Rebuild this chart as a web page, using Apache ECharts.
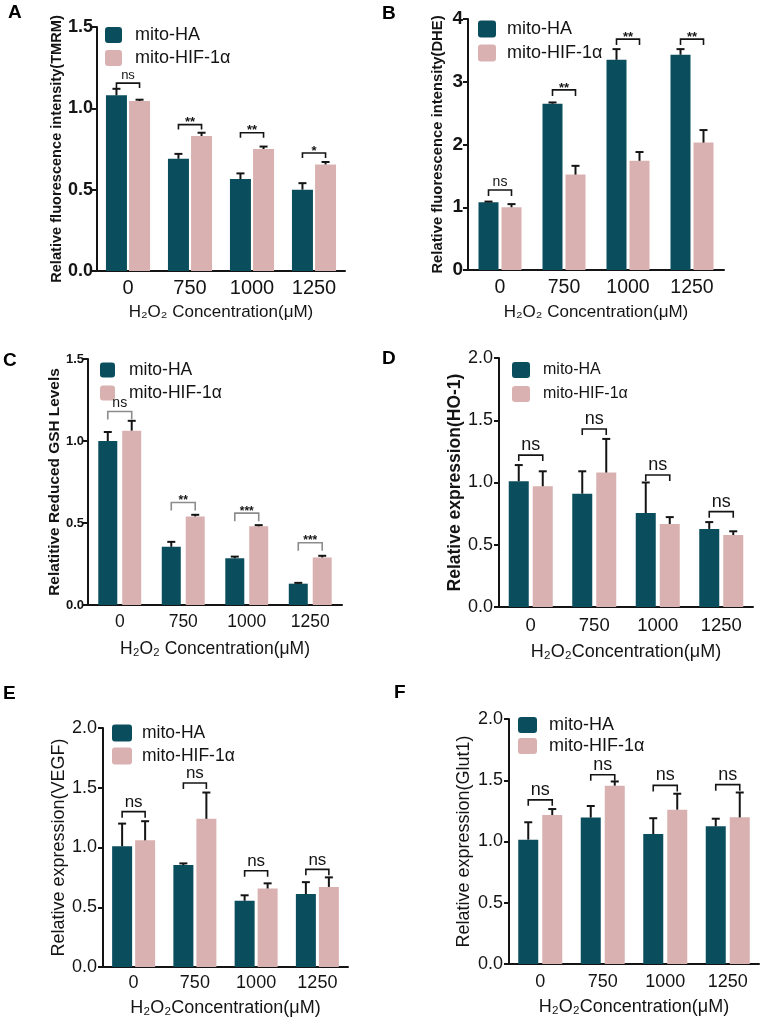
<!DOCTYPE html>
<html><head><meta charset="utf-8">
<script src="https://cdn.jsdelivr.net/npm/echarts@6/dist/echarts.min.js"></script>
<style>html,body{margin:0;padding:0;background:#fff}#c{width:762px;height:1021px}</style>
</head><body><div id="c"></div>
<script>
// ---------- data ----------
const categories = ['0', '750', '1000', '1250'];
const seriesNames = ['mito-HA', 'mito-HIF-1α'];

// A: TMRM
const haA = [1.08, 0.69, 0.565, 0.50];
const haAErr = [0.04, 0.03, 0.035, 0.04];
const hifA = [1.045, 0.83, 0.75, 0.655];
const hifAErr = [0.008, 0.02, 0.015, 0.015];
const bracketA = [1.155, 0.90, 0.85, 0.725];
const sigA = ['ns', '**', '**', '*'];
const yTicksA = ['0.0', '0.5', '1.0', '1.5'];

// B: DHE
const haB = [1.08, 2.65, 3.35, 3.43];
const haBErr = [0.01, 0.02, 0.17, 0.09];
const hifB = [1.00, 1.52, 1.74, 2.03];
const hifBErr = [0.05, 0.14, 0.14, 0.20];
const bracketB = [1.275, 2.87, 3.68, 3.68];
const sigB = ['ns', '**', '**', '**'];
const yTicksB = ['0', '1', '2', '3', '4'];

// C: GSH
const haC = [1.00, 0.355, 0.285, 0.13];
const haCErr = [0.055, 0.03, 0.01, 0.005];
const hifC = [1.063, 0.54, 0.48, 0.29];
const hifCErr = [0.06, 0.01, 0.007, 0.01];
const bracketC = [1.18, 0.625, 0.56, 0.38];
const sigC = ['ns', '**', '***', '***'];
const yTicksC = ['0.0', '0.5', '1.0', '1.5'];

// D: HO-1
const haD = [1.01, 0.91, 0.755, 0.627];
const haDErr = [0.13, 0.18, 0.245, 0.055];
const hifD = [0.97, 1.08, 0.667, 0.578];
const hifDErr = [0.12, 0.27, 0.055, 0.03];
const bracketD = [1.22, 1.43, 1.06, 0.766];
const sigD = ['ns', 'ns', 'ns', 'ns'];
const yTicksD = ['0.0', '0.5', '1.0', '1.5', '2.0'];

// E: VEGF
const haE = [1.01, 0.853, 0.554, 0.61];
const haEErr = [0.19, 0.014, 0.046, 0.10];
const hifE = [1.06, 1.24, 0.657, 0.67];
const hifEErr = [0.16, 0.22, 0.043, 0.08];
const bracketE = [1.30, 1.54, 0.806, 0.817];
const sigE = ['ns', 'ns', 'ns', 'ns'];
const yTicksE = ['0.0', '0.5', '1.0', '1.5', '2.0'];

// F: Glut1
const haF = [1.015, 1.195, 1.061, 1.124];
const haFErr = [0.142, 0.095, 0.129, 0.062];
const hifF = [1.216, 1.456, 1.26, 1.197];
const hifFErr = [0.049, 0.034, 0.13, 0.203];
const bracketF = [1.34, 1.545, 1.458, 1.464];
const sigF = ['ns', 'ns', 'ns', 'ns'];
const yTicksF = ['0.0', '0.5', '1.0', '1.5', '2.0'];

// ---------- styles ----------
const FONT = '"Liberation Sans", Arial, Helvetica, sans-serif';
const DARK = '#0a4e5e';
const PINK = '#dab1b1';
const INK = '#141414';

const panels = [
  { label: 'A', labelPos: [8, 3], grid: { left: 97, top: 27, width: 248, height: 244 },
    ha: haA, haErr: haAErr, hif: hifA, hifErr: hifAErr, br: bracketA, sig: sigA, yTicks: yTicksA,
    max: 1.5, interval: 0.5, yName: 'Relative fluorescence intensity(TMRM)', yNameSize: 14.6, yNameBold: true, yNameGap: 32,
    yLabSize: 18, yLabBold: true, yLabMargin: 4,
    xName: 'H₂O₂ Concentration(μM)', xNameSize: 17, xNameGap: 33, xLabSize: 20, xLabMargin: 7,
    barW: 21, gapPct: 0.10, tick: 5, brColor: INK, sigSize: 13, starSize: 13,
    legend: { left: 105, top: 26, w: 17, h: 16, font: 18, gap: 5, pad: 8 } },
  { label: 'B', labelPos: [382, 4], grid: { left: 468, top: 19, width: 256, height: 251 },
    ha: haB, haErr: haBErr, hif: hifB, hifErr: hifBErr, br: bracketB, sig: sigB, yTicks: yTicksB,
    max: 4, interval: 1, yName: 'Relative fluorescence intensity(DHE)', yNameSize: 14.8, yNameBold: true, yNameGap: 23,
    yLabSize: 19, yLabBold: true, yLabMargin: 5,
    xName: 'H₂O₂ Concentration(μM)', xNameSize: 17, xNameGap: 34, xLabSize: 19.5, xLabMargin: 8,
    barW: 20, gapPct: 0.15, tick: 6, brColor: INK, sigSize: 14, starSize: 13,
    legend: { left: 478, top: 20, w: 18, h: 17, font: 18, gap: 6, pad: 6 } },
  { label: 'C', labelPos: [3, 351], grid: { left: 88, top: 359, width: 254, height: 246 },
    ha: haC, haErr: haCErr, hif: hifC, hifErr: hifCErr, br: bracketC, sig: sigC, yTicks: yTicksC,
    max: 1.5, interval: 0.5, yName: 'Relatitive Reduced GSH Levels', yNameSize: 15.4, yNameBold: true, yNameGap: 24,
    yLabSize: 13, yLabBold: true, yLabMargin: 4,
    xName: 'H₂O₂ Concentration(μM)', xNameSize: 17.5, xNameGap: 35, xLabSize: 17.5, xLabMargin: 8,
    barW: 19, gapPct: 0.26, tick: 8, brColor: '#8c8c8c', sigSize: 14, starSize: 12,
    legend: { left: 100, top: 361, w: 15, h: 15, font: 17.5, gap: 5, pad: 9 } },
  { label: 'D', labelPos: [382, 349], grid: { left: 499, top: 358, width: 254, height: 249 },
    ha: haD, haErr: haDErr, hif: hifD, hifErr: hifDErr, br: bracketD, sig: sigD, yTicks: yTicksD,
    max: 2, interval: 0.5, yName: 'Relative expression(HO-1)', yNameSize: 17.5, yNameBold: true, yNameGap: 34,
    yLabSize: 18, yLabBold: false, yLabMargin: 6,
    xName: 'H₂O₂Concentration(μM)', xNameSize: 18, xNameGap: 36, xLabSize: 18.5, xLabMargin: 9,
    barW: 20, gapPct: 0.20, tick: 6, brColor: INK, sigSize: 18, starSize: 14,
    legend: { left: 512, top: 362, w: 18, h: 16, font: 16, gap: 8, pad: 8 } },
  { label: 'E', labelPos: [3, 684], grid: { left: 103, top: 728, width: 245, height: 239 },
    ha: haE, haErr: haEErr, hif: hifE, hifErr: hifEErr, br: bracketE, sig: sigE, yTicks: yTicksE,
    max: 2, interval: 0.5, yName: 'Relative expression(VEGF)', yNameSize: 18, yNameBold: false, yNameGap: 35,
    yLabSize: 18, yLabBold: false, yLabMargin: 6,
    xName: 'H₂O₂Concentration(μM)', xNameSize: 18, xNameGap: 32, xLabSize: 18, xLabMargin: 7,
    barW: 20, gapPct: 0.15, tick: 6, brColor: INK, sigSize: 17, starSize: 14,
    legend: { left: 112, top: 724, w: 20, h: 17, font: 17.5, gap: 5, pad: 5 } },
  { label: 'F', labelPos: [394, 683], grid: { left: 509, top: 719, width: 250, height: 245 },
    ha: haF, haErr: haFErr, hif: hifF, hifErr: hifFErr, br: bracketF, sig: sigF, yTicks: yTicksF,
    max: 2, interval: 0.5, yName: 'Relative expression(Glut1)', yNameSize: 18, yNameBold: false, yNameGap: 36,
    yLabSize: 18, yLabBold: false, yLabMargin: 6,
    xName: 'H₂O₂Concentration(μM)', xNameSize: 18, xNameGap: 34, xLabSize: 18, xLabMargin: 9,
    barW: 20, gapPct: 0.20, tick: 6, brColor: INK, sigSize: 18, starSize: 14,
    legend: { left: 518, top: 716, w: 19, h: 16, font: 18, gap: 3, pad: 7 } }
];

// rounded-square legend icon with an invisible point to its right, which widens the gap before the text
function legendIcon(w, h, pad) {
  const r = 3, W = w + pad;
  return 'path://M' + r + ',0H' + (w - r) + 'Q' + w + ',0,' + w + ',' + r + 'V' + (h - r) +
    'Q' + w + ',' + h + ',' + (w - r) + ',' + h + 'H' + r + 'Q0,' + h + ',0,' + (h - r) + 'V' + r +
    'Q0,0,' + r + ',0Z M' + W + ',' + (h / 2) + 'L' + W + ',' + (h / 2 + 0.01);
}

function errRender(off) {
  return function (params, api) {
    const i = api.value(0), m = api.value(1), t = api.value(2);
    const p0 = api.coord([i, m]);
    const p1 = api.coord([i, t]);
    const x = p0[0] + off;
    return { type: 'group', children: [
      { type: 'line', shape: { x1: x, y1: p0[1], x2: x, y2: p1[1] }, style: { stroke: INK, lineWidth: 2 } },
      { type: 'line', shape: { x1: x - 4, y1: p1[1], x2: x + 4, y2: p1[1] }, style: { stroke: INK, lineWidth: 2 } }
    ] };
  };
}

function brRender(p) {
  const off = (p.barW + p.barW * p.gapPct) / 2;
  return function (params, api) {
    const i = api.value(0), v = api.value(1);
    const c = api.coord([i, v]);
    const x1 = c[0] - off, x2 = c[0] + off, y = c[1];
    const label = p.sig[params.dataIndex];
    const star = label.indexOf('*') >= 0;
    return { type: 'group', children: [
      { type: 'polyline', shape: { points: [[x1, y + p.tick], [x1, y], [x2, y], [x2, y + p.tick]] },
        style: { stroke: p.brColor, lineWidth: 1.6, fill: 'none' } },
      { type: 'text', x: c[0], y: star ? y + p.starSize * 0.35 : y - 1,
        style: { text: label, align: 'center', verticalAlign: 'bottom', fontSize: star ? p.starSize : p.sigSize,
          fontWeight: star ? 'bold' : 'normal', fontFamily: FONT, fill: INK } }
    ] };
  };
}

const option = { animation: false, backgroundColor: '#fff', title: [], grid: [], xAxis: [], yAxis: [], legend: [], series: [] };

panels.forEach((p, k) => {
  option.title.push({ text: p.label, left: p.labelPos[0], top: p.labelPos[1], padding: 0,
    textStyle: { fontSize: 19, fontWeight: 'bold', fontFamily: FONT, color: '#000' } });
  option.grid.push(Object.assign({ containLabel: false }, p.grid));
  option.xAxis.push({ type: 'category', gridIndex: k, data: categories,
    axisLine: { lineStyle: { color: INK, width: 2 } },
    axisTick: { alignWithLabel: true, length: 5, lineStyle: { color: INK, width: 2 } },
    axisLabel: { fontSize: p.xLabSize, fontFamily: FONT, color: INK, margin: p.xLabMargin },
    name: p.xName, nameLocation: 'middle', nameGap: p.xNameGap,
    nameTextStyle: { fontSize: p.xNameSize, fontFamily: FONT, color: INK } });
  option.yAxis.push({ type: 'value', gridIndex: k, min: 0, max: p.max, interval: p.interval,
    splitLine: { show: false },
    axisLine: { show: true, lineStyle: { color: INK, width: 2 } },
    axisTick: { show: true, length: 5, lineStyle: { color: INK, width: 2 } },
    axisLabel: { fontSize: p.yLabSize, fontWeight: p.yLabBold ? 'bold' : 'normal', fontFamily: FONT, color: INK,
      margin: p.yLabMargin, formatter: (v, idx) => p.yTicks[idx] },
    name: p.yName, nameLocation: 'middle', nameGap: p.yNameGap,
    nameTextStyle: { fontSize: p.yNameSize, fontWeight: p.yNameBold ? 'bold' : 'normal', fontFamily: FONT, color: INK } });
  const L = p.legend;
  option.legend.push({ orient: 'vertical', left: L.left, top: L.top, padding: 0,
    itemWidth: L.w + L.pad, itemHeight: L.h, itemGap: L.gap,
    icon: legendIcon(L.w, L.h, L.pad), selectedMode: false, data: seriesNames,
    textStyle: { fontSize: L.font, fontFamily: FONT, color: INK } });
  const off = (p.barW + p.barW * p.gapPct) / 2;
  option.series.push(
    { type: 'bar', name: seriesNames[0], xAxisIndex: k, yAxisIndex: k, data: p.ha, barWidth: p.barW,
      barGap: Math.round(p.gapPct * 100) + '%', itemStyle: { color: DARK } },
    { type: 'bar', name: seriesNames[1], xAxisIndex: k, yAxisIndex: k, data: p.hif, barWidth: p.barW,
      barGap: Math.round(p.gapPct * 100) + '%', itemStyle: { color: PINK } },
    { type: 'custom', name: 'err-ha-' + p.label, xAxisIndex: k, yAxisIndex: k, z: 5, silent: true,
      renderItem: errRender(-off), data: p.ha.map((v, i) => [i, v, v + p.haErr[i]]) },
    { type: 'custom', name: 'err-hif-' + p.label, xAxisIndex: k, yAxisIndex: k, z: 5, silent: true,
      renderItem: errRender(off), data: p.hif.map((v, i) => [i, v, v + p.hifErr[i]]) },
    { type: 'custom', name: 'sig-' + p.label, xAxisIndex: k, yAxisIndex: k, z: 6, silent: true,
      renderItem: brRender(p), data: p.br.map((v, i) => [i, v]) }
  );
});

const chart = echarts.init(document.getElementById('c'), null, { renderer: 'canvas' });
chart.setOption(option);
</script>
</body></html>
